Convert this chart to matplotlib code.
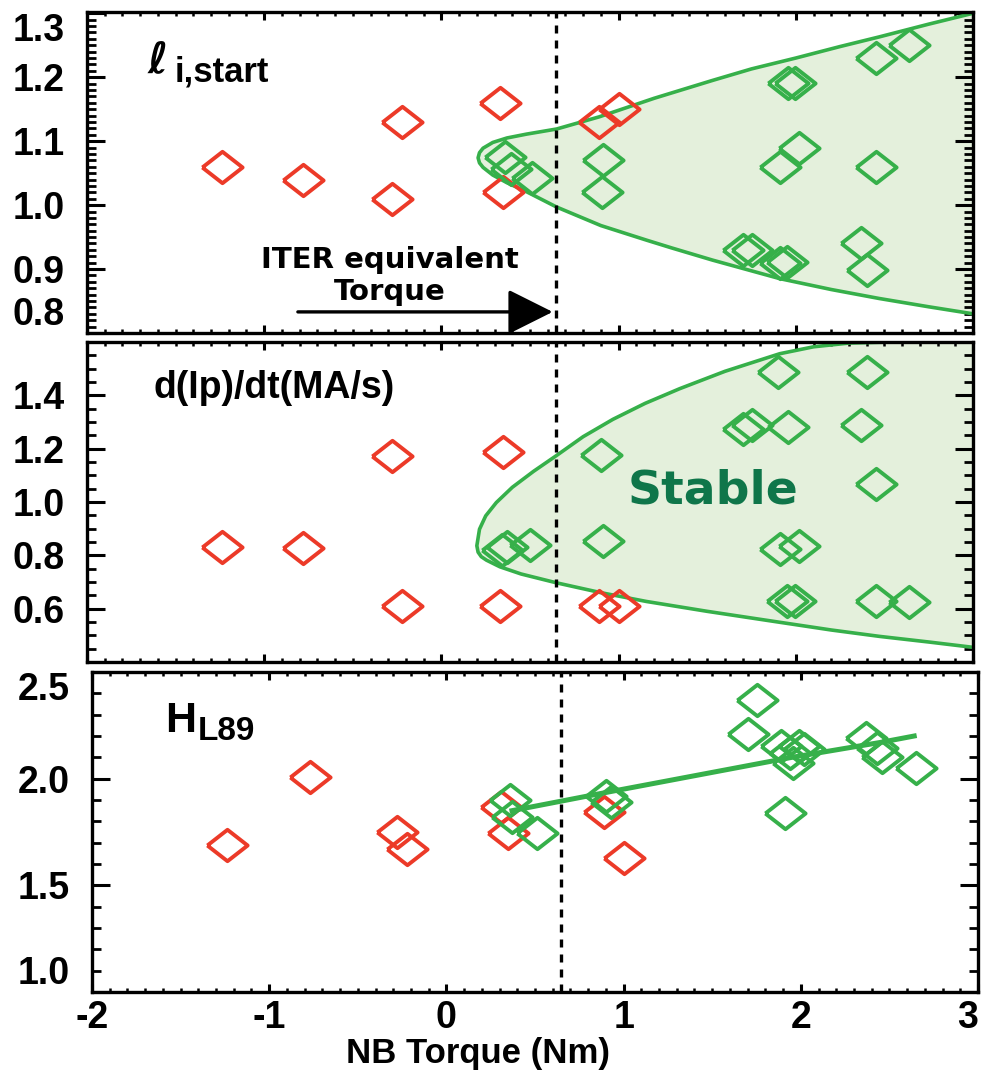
import matplotlib
matplotlib.use('Agg')
import matplotlib.pyplot as plt
from matplotlib.ticker import MultipleLocator, FixedLocator

plt.rcParams['font.family'] = ['Liberation Sans Narrow', 'Liberation Sans', 'DejaVu Sans']
plt.rcParams['font.weight'] = 'bold'
plt.rcParams['mathtext.fontset'] = 'dejavusans'
plt.rcParams['axes.unicode_minus'] = False

RED = '#EC3A28'
GREEN = '#36B04A'
FILL = '#E4F0DC'
DARKGREEN = '#0F764A'

# ITER equivalent NB torque
iter_torque = 0.645
torque_ticks = [-2, -1, 0, 1, 2, 3]

# ---- panel 1: li,start
li_red_x = [-1.24, -0.78, -0.22, -0.28, 0.33, 0.35, 0.89, 1.00]
li_red_y = [1.06, 1.04, 1.13, 1.01, 1.16, 1.021, 1.13, 1.15]
li_grn_x = [0.36, 0.39, 0.51, 0.91, 0.905, 1.955, 1.993, 2.02, 1.91,
            2.45, 2.64, 2.45, 2.37, 2.40, 1.70, 1.75, 1.91, 1.95]
li_grn_y = [1.075, 1.057, 1.042, 1.07, 1.02, 1.191, 1.191, 1.09, 1.06,
            1.23, 1.25, 1.06, 0.94, 0.898, 0.93, 0.93, 0.909, 0.911]
# outline of the stable region (upper branch right->left, then lower branch)
li_bnd_x = [3.0, 2.75, 2.47, 2.25, 2.0, 1.75, 1.53, 1.2, 0.89, 0.65, 0.48, 0.37,
            0.29, 0.235, 0.215, 0.207, 0.215, 0.235, 0.29, 0.37, 0.48, 0.65,
            0.9, 1.16, 1.3, 1.53, 1.91, 2.2, 2.47, 2.75, 3.0]
li_bnd_y = [1.30, 1.283, 1.263, 1.248, 1.23, 1.213, 1.195, 1.167, 1.138, 1.119,
            1.111, 1.105, 1.098, 1.089, 1.082, 1.074, 1.066, 1.059, 1.047, 1.035,
            1.021, 0.997, 0.968, 0.945, 0.933, 0.914, 0.885, 0.868, 0.854, 0.841, 0.83]

# ---- panel 2: d(Ip)/dt
ip_red_x = [-1.24, -0.78, -0.28, -0.22, 0.35, 0.33, 0.89, 1.00]
ip_red_y = [0.832, 0.827, 1.174, 0.609, 1.186, 0.611, 0.611, 0.611]
ip_grn_x = [0.34, 0.37, 0.50, 0.90, 0.91, 1.90, 2.40, 1.70, 1.75, 1.955,
            2.37, 2.45, 1.91, 2.02, 1.95, 1.997, 2.45, 2.64]
ip_grn_y = [0.82, 0.83, 0.84, 1.176, 0.855, 1.486, 1.486, 1.274, 1.29, 1.28,
            1.29, 1.067, 0.824, 0.836, 0.63, 0.63, 0.63, 0.625]
ip_bnd_x = [3.0, 2.6, 2.3, 2.1, 1.909, 1.6, 1.345, 1.15, 0.968, 0.80, 0.649,
            0.52, 0.40, 0.31, 0.25, 0.215, 0.20, 0.207, 0.225, 0.254, 0.33,
            0.45, 0.649, 0.9, 1.157, 1.5, 1.909, 2.2, 2.473, 2.75, 3.0]
ip_bnd_y = [1.602, 1.601, 1.596, 1.582, 1.556, 1.49, 1.425, 1.37, 1.31, 1.245,
            1.174, 1.115, 1.055, 0.998, 0.948, 0.898, 0.836, 0.812, 0.795, 0.782,
            0.757, 0.73, 0.697, 0.66, 0.627, 0.59, 0.549, 0.52, 0.496, 0.475, 0.455]

# ---- panel 3: H_L89
h_red_x = [-1.24, -0.77, -0.28, -0.22, 0.31, 0.35, 0.89, 1.0]
h_red_y = [1.69, 2.01, 1.75, 1.67, 1.867, 1.744, 1.844, 1.628]
h_grn_x = [0.36, 0.37, 0.51, 0.90, 0.93, 1.75, 1.70, 1.91, 1.89, 1.99,
           1.956, 1.937, 2.02, 2.37, 2.43, 2.46, 2.65]
h_grn_y = [1.90, 1.82, 1.744, 1.92, 1.89, 2.37, 2.21, 1.84, 2.153, 2.153,
           2.075, 2.122, 2.14, 2.19, 2.145, 2.10, 2.052]
h_fit_x = [0.37, 0.93, 1.95, 2.45, 2.64]
h_fit_y = [1.85, 1.94, 2.10, 2.17, 2.20]

diamond = [(-1, 0), (0, 0.78), (1, 0), (0, -0.78), (-1, 0)]
mkw = dict(marker=diamond, ms=29, mfc='none', mew=2.8, ls='none')

W, H = 981, 1073
fig = plt.figure(figsize=(W / 100, H / 100), dpi=100)
ax1 = fig.add_axes([87 / W, 1 - 333 / H, 886 / W, 321 / H])
ax2 = fig.add_axes([87 / W, 1 - 662 / H, 886 / W, 320 / H])
ax3 = fig.add_axes([92 / W, 1 - 992 / H, 886 / W, 320 / H])


def style(ax, ymin, ymax, yticks, ymin_step, labels_x):
    ax.set_xlim(-2, 3)
    ax.set_ylim(ymin, ymax)
    ax.xaxis.set_major_locator(FixedLocator(torque_ticks))
    ax.xaxis.set_minor_locator(MultipleLocator(0.1))
    ax.yaxis.set_major_locator(FixedLocator(yticks))
    ax.yaxis.set_minor_locator(MultipleLocator(ymin_step))
    ax.yaxis.set_major_formatter('{x:.1f}')
    for s in ax.spines.values():
        s.set_linewidth(2.4)
    ax.tick_params(axis='both', which='both', direction='in', top=True, right=True)
    ax.tick_params(axis='y', which='major', length=13, width=2.2, labelsize=27, pad=16)
    ax.tick_params(axis='y', which='minor', length=6.5, width=2.0)
    ax.tick_params(axis='x', which='major', length=6, width=2.2, labelsize=27, pad=6)
    ax.tick_params(axis='x', which='minor', length=3, width=1.8)
    if not labels_x:
        ax.tick_params(axis='x', labelbottom=False)
    ax.axvline(iter_torque, color='k', lw=2.4, ls=(0, (2.4, 2.1)), zorder=5)


style(ax1, 0.8, 1.302, [0.8, 0.9, 1.0, 1.1, 1.2, 1.3], 0.01, False)
style(ax2, 0.4, 1.6, [0.6, 0.8, 1.0, 1.2, 1.4], 0.05, False)
style(ax3, 1.0, 2.5, [1.0, 1.5, 2.0, 2.5], 0.1, True)

# edge labels are pulled inside the frame, as in the original
for ax in (ax1, ax3):
    ticks = ax.yaxis.get_major_ticks()
    ticks[0].label1.set_va('bottom')
    ticks[-1].label1.set_va('top')
xt = ax3.xaxis.get_major_ticks()
xt[-1].label1.set_ha('right')

# panel 1
ax1.fill(li_bnd_x, li_bnd_y, color=FILL, zorder=1, lw=0)
ax1.plot(li_bnd_x, li_bnd_y, color=GREEN, lw=2.6, zorder=2)
ax1.plot(li_red_x, li_red_y, mec=RED, zorder=3, **mkw)
ax1.plot(li_grn_x, li_grn_y, mec=GREEN, zorder=4, **mkw)
ax1.text(0.068, 0.81, r'$\ell$', transform=ax1.transAxes, fontsize=31,
         fontweight='normal', ha='left', va='baseline')
ax1.text(0.099, 0.782, 'i,start', transform=ax1.transAxes, fontsize=25,
         ha='left', va='baseline')
ax1.text(-0.29, 0.914, 'ITER equivalent', fontsize=21, family='DejaVu Sans',
         ha='center', va='center')
ax1.text(-0.29, 0.864, 'Torque', fontsize=21, family='DejaVu Sans',
         ha='center', va='center')
ax1.annotate('', xy=(0.628, 0.833), xytext=(-0.81, 0.833),
             arrowprops=dict(arrowstyle='-|>,head_length=1.4,head_width=0.7',
                             mutation_scale=20, lw=2.4, color='k',
                             shrinkA=0, shrinkB=0), zorder=6)

# panel 2
ax2.fill(ip_bnd_x, ip_bnd_y, color=FILL, zorder=1, lw=0)
ax2.plot(ip_bnd_x, ip_bnd_y, color=GREEN, lw=2.6, zorder=2)
ax2.plot(ip_red_x, ip_red_y, mec=RED, zorder=3, **mkw)
ax2.plot(ip_grn_x, ip_grn_y, mec=GREEN, zorder=4, **mkw)
ax2.text(0.0756, 0.825, 'd(Ip)/dt(MA/s)', transform=ax2.transAxes, fontsize=27,
         ha='left', va='baseline')
ax2.text(1.53, 1.04, 'Stable', color=DARKGREEN, fontsize=34, family='DejaVu Sans',
         ha='center', va='center')

# panel 3
ax3.plot(h_red_x, h_red_y, mec=RED, zorder=3, **mkw)
ax3.plot(h_grn_x, h_grn_y, mec=GREEN, zorder=4, **mkw)
ax3.plot(h_fit_x, h_fit_y, color=GREEN, lw=3.6, zorder=6)
ax3.text(0.0824, 0.8125, 'H', transform=ax3.transAxes, fontsize=31,
         ha='left', va='baseline')
ax3.text(0.119, 0.7875, 'L89', transform=ax3.transAxes, fontsize=24,
         ha='left', va='baseline')

fig.text(478 / W, 1 - 1053 / H, 'NB Torque (Nm)', fontsize=25,
         ha='center', va='center')

fig.savefig('out.png', dpi=100)
